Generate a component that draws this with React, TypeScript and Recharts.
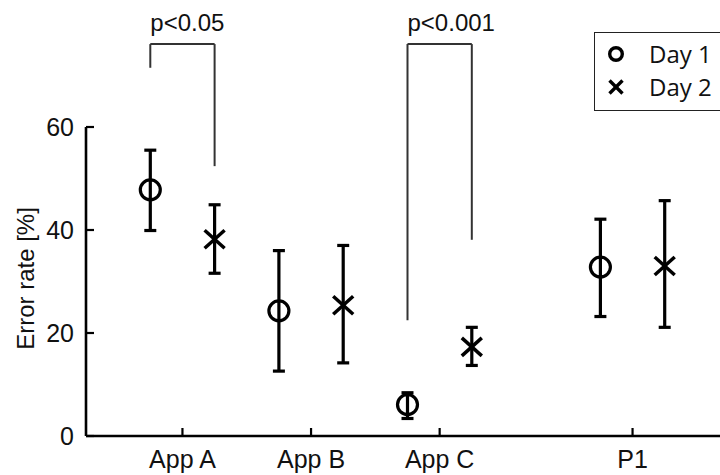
import React from 'react';
import {
  ComposedChart,
  Scatter,
  XAxis,
  YAxis,
  ErrorBar,
  ReferenceLine,
  Legend,
} from 'recharts';

// ---- data ----
const categories = ['App A', 'App B', 'App C', 'P1'];
const categoryPos = [1, 2, 3, 4.5];
const dayOffset = 0.25;

const day1Mean = [47.8, 24.3, 6.1, 32.8];
const day1Low = [39.9, 12.6, 3.4, 23.2];
const day1High = [55.5, 36.0, 8.4, 42.1];

const day2Mean = [38.2, 25.4, 17.3, 33.0];
const day2Low = [31.6, 14.2, 13.7, 21.1];
const day2High = [44.9, 37.0, 21.1, 45.7];

const yTicks = [0, 20, 40, 60];

const bracketLeft = [0.75, 2.75];
const bracketRight = [1.25, 3.25];
const bracketTop = [76.1, 76.1];
const bracketLeftBottom = [71.5, 22.5];
const bracketRightBottom = [52.4, 38.1];
const bracketLabels = ['p<0.05', 'p<0.001'];

const seriesNames = ['Day 1', 'Day 2'];

// ---- derived tables ----
const day1Data = categories.map((c, i) => ({
  x: categoryPos[i] - dayOffset,
  y: day1Mean[i],
  err: [day1Mean[i] - day1Low[i], day1High[i] - day1Mean[i]],
}));
const day2Data = categories.map((c, i) => ({
  x: categoryPos[i] + dayOffset,
  y: day2Mean[i],
  err: [day2Mean[i] - day2Low[i], day2High[i] - day2Mean[i]],
}));

const MAIN_FONT = '"Liberation Sans", Arial, Helvetica, sans-serif';
const LEGEND_FONT = '"Open Sans", "Noto Sans", sans-serif';

const CircleShape = (props: any) => {
  const { cx, cy } = props;
  return <circle cx={cx} cy={cy} r={10} fill="none" stroke="#000" strokeWidth={3.2} />;
};

const CrossShape = (props: any) => {
  const { cx, cy } = props;
  const h = 10;
  return (
    <g stroke="#000" strokeWidth={3.5}>
      <line x1={cx - h} y1={cy - h + 1} x2={cx + h} y2={cy + h - 1} />
      <line x1={cx - h} y1={cy + h - 1} x2={cx + h} y2={cy - h + 1} />
    </g>
  );
};

const LegendMarker = ({ kind }: { kind: number }) => (
  <svg width={18} height={18} style={{ display: 'block' }}>
    {kind === 0 ? (
      <circle cx={9} cy={9} r={6.3} fill="none" stroke="#000" strokeWidth={3.4} />
    ) : (
      <g stroke="#000" strokeWidth={3.4}>
        <line x1={2.5} y1={2.5} x2={15.5} y2={15.5} />
        <line x1={2.5} y1={15.5} x2={15.5} y2={2.5} />
      </g>
    )}
  </svg>
);

const renderLegend = (props: any) => {
  const payload = props.payload || [];
  return (
    <div
      style={{
        borderTop: '1.6px solid #222',
        borderLeft: '1.6px solid #222',
        borderBottom: '1.6px solid #222',
        borderRight: 'none',
        background: '#fff',
        padding: '4px 0 7px 12px',
        boxSizing: 'border-box',
        fontFamily: LEGEND_FONT,
        fontSize: 24,
        color: '#111',
      }}
    >
      {payload.map((entry: any, i: number) => (
        <div key={i} style={{ display: 'flex', alignItems: 'center', height: 33, whiteSpace: 'nowrap' }}>
          <LegendMarker kind={seriesNames.indexOf(entry.value)} />
          <span style={{ marginLeft: 24, lineHeight: '33px' }}>{entry.value}</span>
        </div>
      ))}
    </div>
  );
};

const makeBracketLabel = (text: string) => (props: any) => {
  const vb = props.viewBox || {};
  return (
    <text
      x={vb.x}
      y={vb.y - 13}
      fontFamily={MAIN_FONT}
      fontSize={24}
      fill="#111"
      textAnchor="start"
    >
      {text}
    </text>
  );
};

const YLabel = (props: any) => {
  const vb = props.viewBox || {};
  const cx = vb.x + 25;
  const cy = vb.y + vb.height / 2 - 3;
  return (
    <text
      x={cx}
      y={cy}
      transform={`rotate(-90, ${cx}, ${cy})`}
      textAnchor="middle"
      dominantBaseline="central"
      fontFamily={MAIN_FONT}
      fontSize={24}
      fill="#111"
    >
      Error rate [%]
    </text>
  );
};

export default function App() {
  const tickStyle = { fontFamily: MAIN_FONT, fontSize: 25, fill: '#111' };
  return (
    <div
      style={{
        position: 'absolute',
        left: 0,
        top: 0,
        width: 720,
        height: 475,
        overflow: 'hidden',
        background: '#fff',
      }}
    >
      <ComposedChart
        width={720}
        height={475}
        margin={{ top: 127, right: 0, bottom: 0, left: 0 }}
      >
        <XAxis
          type="number"
          dataKey="x"
          domain={[0.25, 5.18]}
          allowDataOverflow
          ticks={categoryPos}
          tickFormatter={(v: number) => categories[categoryPos.indexOf(v)] ?? ''}
          height={39}
          axisLine={{ stroke: '#000', strokeWidth: 2.6 }}
          tickLine={{ stroke: '#000', strokeWidth: 2.2 }}
          tickSize={-8}
          tickMargin={22}
          tick={tickStyle}
          interval={0}
        />
        <YAxis
          type="number"
          domain={[0, 60]}
          ticks={yTicks}
          allowDataOverflow
          width={86}
          axisLine={{ stroke: '#000', strokeWidth: 2.6 }}
          tickLine={{ stroke: '#000', strokeWidth: 2.2 }}
          tickSize={-8}
          tickMargin={20}
          tick={tickStyle}
          interval={0}
          label={<YLabel />}
        />
        {bracketLabels.map((lab, i) => (
          <ReferenceLine
            key={`bl-${i}`}
            segment={[
              { x: bracketLeft[i], y: bracketLeftBottom[i] },
              { x: bracketLeft[i], y: bracketTop[i] },
            ]}
            stroke="#333"
            strokeWidth={2}
            ifOverflow="visible"
          />
        ))}
        {bracketLabels.map((lab, i) => (
          <ReferenceLine
            key={`bt-${i}`}
            segment={[
              { x: bracketLeft[i], y: bracketTop[i] },
              { x: bracketRight[i], y: bracketTop[i] },
            ]}
            stroke="#333"
            strokeWidth={2}
            ifOverflow="visible"
            label={makeBracketLabel(lab)}
          />
        ))}
        {bracketLabels.map((lab, i) => (
          <ReferenceLine
            key={`br-${i}`}
            segment={[
              { x: bracketRight[i], y: bracketTop[i] },
              { x: bracketRight[i], y: bracketRightBottom[i] },
            ]}
            stroke="#333"
            strokeWidth={2}
            ifOverflow="visible"
          />
        ))}
        <Scatter
          name={seriesNames[0]}
          data={day1Data}
          dataKey="y"
          shape={<CircleShape />}
          isAnimationActive={false}
        >
          <ErrorBar dataKey="err" direction="y" width={6} strokeWidth={3.2} stroke="#000" />
        </Scatter>
        <Scatter
          name={seriesNames[1]}
          data={day2Data}
          dataKey="y"
          shape={<CrossShape />}
          isAnimationActive={false}
        >
          <ErrorBar dataKey="err" direction="y" width={6} strokeWidth={3.2} stroke="#000" />
        </Scatter>
        <Legend
          layout="vertical"
          align="center"
          verticalAlign="middle"
          content={renderLegend}
          wrapperStyle={{ left: 594, top: 32, width: 126, height: 'auto' }}
        />
      </ComposedChart>
    </div>
  );
}
